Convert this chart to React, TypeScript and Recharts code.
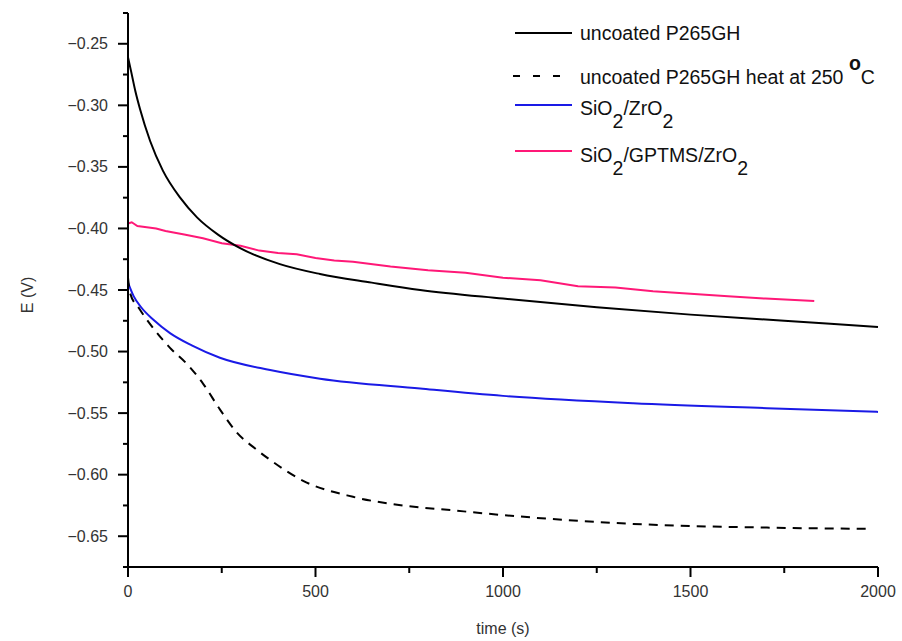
import { Line, LineChart, XAxis, YAxis } from "recharts";

// time (s) and potential E (V)
const uncoatedT = [0, 8, 20, 32, 59, 93, 139, 184, 240, 299, 405, 512, 650, 779, 1000, 1250, 1500, 1750, 2000];
const uncoatedE = [-0.261, -0.272, -0.289, -0.303, -0.329, -0.353, -0.375, -0.391, -0.405, -0.416, -0.429, -0.437, -0.444, -0.45, -0.457, -0.464, -0.47, -0.475, -0.48];

const heatedT = [0, 5, 32, 70, 112, 160, 200, 245, 291, 340, 379, 467, 600, 733, 867, 1045, 1347, 1704, 1970];
const heatedE = [-0.44, -0.452, -0.466, -0.482, -0.497, -0.511, -0.526, -0.547, -0.566, -0.579, -0.588, -0.605, -0.618, -0.625, -0.629, -0.634, -0.64, -0.643, -0.644];

const sioT = [0, 15, 35, 67, 112, 170, 245, 379, 512, 779, 1000, 1347, 1704, 2000];
const sioE = [-0.444, -0.455, -0.464, -0.474, -0.485, -0.495, -0.505, -0.515, -0.522, -0.53, -0.536, -0.542, -0.546, -0.549];

const gptmsT = [0, 10, 25, 50, 75, 100, 150, 200, 250, 300, 350, 400, 450, 500, 550, 600, 700, 800, 900, 1000, 1100, 1200, 1300, 1400, 1500, 1600, 1700, 1830];
const gptmsE = [-0.396, -0.395, -0.398, -0.399, -0.4, -0.402, -0.405, -0.408, -0.412, -0.414, -0.418, -0.42, -0.421, -0.424, -0.426, -0.427, -0.431, -0.434, -0.436, -0.44, -0.442, -0.447, -0.448, -0.451, -0.453, -0.455, -0.457, -0.459];

const yTicks = [-0.225, -0.25, -0.275, -0.3, -0.325, -0.35, -0.375, -0.4, -0.425, -0.45, -0.475, -0.5, -0.525, -0.55, -0.575, -0.6, -0.625, -0.65, -0.675];
const xTicks = [0, 250, 500, 750, 1000, 1250, 1500, 1750, 2000];

const toRows = (t: number[], e: number[]) => t.map((time, i) => ({ time, e: e[i] }));

const FONT = "'Liberation Sans', Arial, sans-serif";

const YTick = ({ x, y, payload }: any) => {
  const v = payload.value as number;
  const major = Math.abs(v * 20 - Math.round(v * 20)) < 1e-6;
  return (
    <g>
      <line x1={x - (major ? 10 : 5)} x2={x} y1={y} y2={y} stroke="#000" strokeWidth={2} />
      {major && (
        <text x={x - 20} y={y} textAnchor="end" dominantBaseline="central" fontSize={16} fill="#333" fontFamily={FONT}>
          {"\u2212" + Math.abs(v).toFixed(2)}
        </text>
      )}
    </g>
  );
};

const XTick = ({ x, y, payload }: any) => {
  const v = payload.value as number;
  const major = v % 500 === 0;
  return (
    <g>
      <line x1={x} x2={x} y1={y} y2={y + (major ? 10 : 6)} stroke="#000" strokeWidth={2} />
      {major && (
        <text x={x} y={y + 24} textAnchor="middle" dominantBaseline="central" fontSize={16} fill="#333" fontFamily={FONT}>
          {v}
        </text>
      )}
    </g>
  );
};

const XTitle = ({ viewBox }: any) => (
  <text x={viewBox.x + viewBox.width / 2} y={viewBox.y + 61} textAnchor="middle" dominantBaseline="central" fontSize={16} fill="#333" fontFamily={FONT}>
    time (s)
  </text>
);

const YTitle = ({ viewBox }: any) => {
  const cx = 27;
  const cy = viewBox.y + viewBox.height / 2 + 5;
  return (
    <text x={cx} y={cy} transform={`rotate(-90 ${cx} ${cy})`} textAnchor="middle" dominantBaseline="central" fontSize={16} fill="#333" fontFamily={FONT}>
      E (V)
    </text>
  );
};

const LegendOverlay = () => (
  <svg width={902} height={641} style={{ position: "absolute", left: 0, top: 0, pointerEvents: "none" }}>
    <g fontFamily={FONT} fontSize={19.5} fill="#111">
      <line x1={515} x2={572} y1={33} y2={33} stroke="#000" strokeWidth={2} />
      <text x={580} y={33} dominantBaseline="central">uncoated P265GH</text>

      <line x1={513} x2={570} y1={76} y2={76} stroke="#000" strokeWidth={2} strokeDasharray="7 13" />
      <text x={580} y={77} dominantBaseline="central">
        uncoated P265GH heat at 250 <tspan dy={-14} fontWeight="bold">o</tspan>
        <tspan dy={14}>C</tspan>
      </text>

      <line x1={515} x2={572} y1={105} y2={105} stroke="#1a1ae6" strokeWidth={2} />
      <text x={580} y={108} dominantBaseline="central">
        SiO<tspan dy={13}>2</tspan>
        <tspan dy={-13}>/ZrO</tspan>
        <tspan dy={13}>2</tspan>
      </text>

      <line x1={515} x2={572} y1={151} y2={151} stroke="#ff1877" strokeWidth={2} />
      <text x={580} y={155} dominantBaseline="central">
        SiO<tspan dy={13}>2</tspan>
        <tspan dy={-13}>/GPTMS/ZrO</tspan>
        <tspan dy={13}>2</tspan>
      </text>
    </g>
  </svg>
);

const App = () => (
  <div style={{ position: "absolute", left: 0, top: 0, width: 902, height: 641, background: "#fff" }}>
    <LineChart width={902} height={641} margin={{ top: 13, right: 24, left: 0, bottom: 0 }}>
      <XAxis
        dataKey="time"
        type="number"
        domain={[0, 2000]}
        ticks={xTicks}
        tick={<XTick />}
        tickLine={false}
        tickSize={0}
        tickMargin={0}
        height={74}
        interval={0}
        axisLine={{ stroke: "#000", strokeWidth: 2 }}
        label={<XTitle />}
      />
      <YAxis
        type="number"
        domain={[-0.675, -0.225]}
        ticks={yTicks}
        tick={<YTick />}
        tickLine={false}
        tickSize={0}
        tickMargin={0}
        width={128}
        interval={0}
        allowDataOverflow
        axisLine={{ stroke: "#000", strokeWidth: 2 }}
        label={<YTitle />}
      />
      <Line data={toRows(gptmsT, gptmsE)} dataKey="e" type="linear" stroke="#ff1877" strokeWidth={2} dot={false} isAnimationActive={false} />
      <Line data={toRows(uncoatedT, uncoatedE)} dataKey="e" type="monotone" stroke="#000" strokeWidth={2} dot={false} isAnimationActive={false} />
      <Line data={toRows(sioT, sioE)} dataKey="e" type="monotone" stroke="#1a1ae6" strokeWidth={2} dot={false} isAnimationActive={false} />
      <Line data={toRows(heatedT, heatedE)} dataKey="e" type="monotone" stroke="#000" strokeWidth={2} strokeDasharray="9 7" dot={false} isAnimationActive={false} />
    </LineChart>
    <LegendOverlay />
  </div>
);

export default App;
